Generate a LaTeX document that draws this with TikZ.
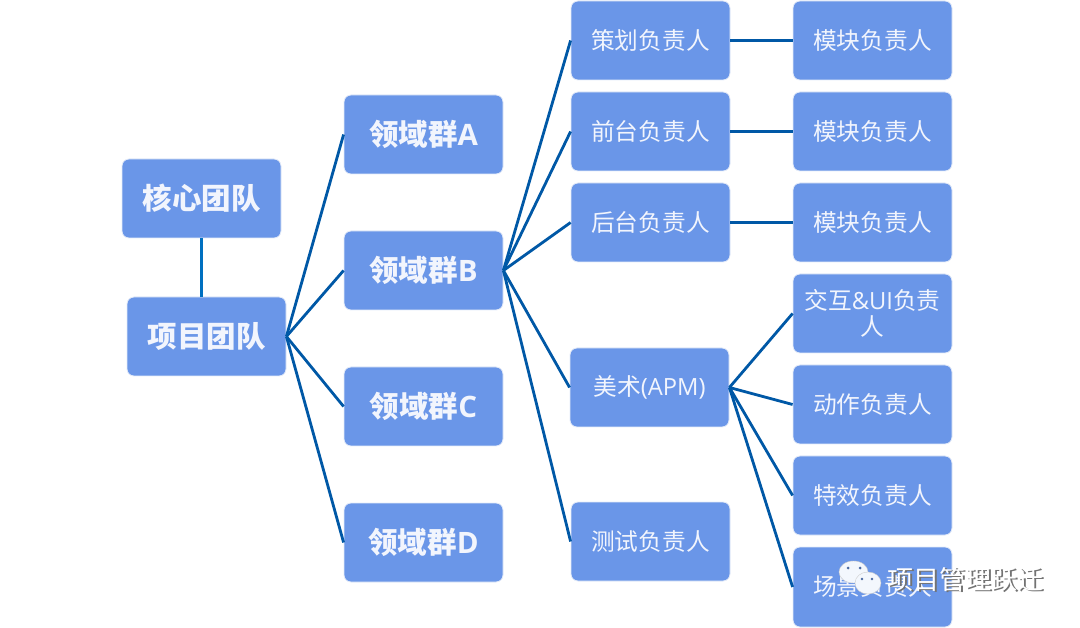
\documentclass[tikz,border=0pt]{standalone}
\usepackage{fontspec}
\setmainfont{Noto Sans CJK SC}
\newfontfamily\latn{Open Sans}
\definecolor{boxfill}{HTML}{6A96E8}
\definecolor{boxedge}{HTML}{E4EBF8}
\definecolor{linkblue}{HTML}{0058A6}
\definecolor{corelink}{HTML}{0070C0}
\definecolor{textwhite}{HTML}{F2F5FD}
\newcommand{\lift}[1]{\raisebox{1pt}{#1}}
\newcommand{\liftmore}[1]{\raisebox{2pt}{#1}}
\tikzset{
  x=1pt,y=-1pt,
  teambox/.style={draw=boxedge,line width=0.8pt,fill=boxfill,rounded corners=7pt,
    minimum width=159pt,minimum height=79pt,inner sep=0pt,align=center,text=textwhite},
  headbox/.style={teambox,font=\bfseries\fontsize{29.5}{33}\selectfont},
  rolebox/.style={teambox,font=\fontsize{23.7}{26}\selectfont},
  link/.style={draw=linkblue,line width=2.8pt},
  markshadow/.style={text=black!55,font=\fontsize{26}{30}\selectfont,inner sep=0pt},
  marktext/.style={text=white,font=\fontsize{26}{30}\selectfont,inner sep=0pt},
  bubble/.style={fill=white!92!boxfill,draw=black!20,line width=0.4pt},
}
\begin{document}
\begin{tikzpicture}
\useasboundingbox (0,0) rectangle (1080,628);
\coordinate (corec) at (201.5,198.5);
\coordinate (projc) at (206.5,336.5);
\node[headbox] (core) at (corec) {核心团队};
\node[headbox] (proj) at (projc) {项目团队};
\node[headbox] (ga) at (423.5,134.5) {\liftmore{领域群{\latn A}}};
\node[headbox] (gb) at (423.5,270.5) {\liftmore{领域群{\latn B}}};
\node[headbox] (gc) at (423.5,406.5) {\liftmore{领域群{\latn C}}};
\node[headbox] (gd) at (423.5,542.5) {\liftmore{领域群{\latn D}}};
\node[rolebox] (plan) at (650.5,40.5) {\lift{策划负责人}};
\node[rolebox] (front) at (650.5,131.5) {\lift{前台负责人}};
\node[rolebox] (back) at (650.5,222.5) {\lift{后台负责人}};
\node[rolebox] (art) at (649.5,387.5) {美术{\latn (APM)}};
\node[rolebox] (test) at (650.5,541.5) {\lift{测试负责人}};
\node[rolebox] (m1) at (872.5,40.5) {\lift{模块负责人}};
\node[rolebox] (m2) at (872.5,131.5) {\lift{模块负责人}};
\node[rolebox] (m3) at (872.5,222.5) {\lift{模块负责人}};
\node[rolebox] (ui) at (872.5,313.5) {交互{\latn \&UI}负责\\人};
\node[rolebox] (act) at (872.5,404.5) {动作负责人};
\node[rolebox] (fx) at (872.5,495.5) {特效负责人};
\node[rolebox,minimum height=80pt] (scene) at (872.5,587) {场景负责人};
\draw[draw=corelink,line width=2.8pt] (core.south) -- (core.south |- proj.north);
\foreach \t in {ga,gb,gc,gd} \draw[link] (proj.east) -- (\t.west);
\foreach \t in {plan,front,back,art,test} \draw[link] (gb.east) -- (\t.west);
\draw[link] (plan.east) -- (m1.west);
\draw[link] (front.east) -- (m2.west);
\draw[link] (back.east) -- (m3.west);
\foreach \t in {ui,act,fx,scene} \draw[link] (art.east) -- (\t.west);
% watermark
\path[bubble] (853.5,572) ellipse (14.5pt and 11pt);
\path[bubble] (868,583) ellipse (13pt and 11pt);
\fill[boxfill!70!black] (848,568) circle (1.5pt) (860,568) circle (1.5pt) (862,579) circle (1.3pt) (872,579) circle (1.3pt);
\node[markshadow,anchor=west] (markb) at (888.8,581) {项目管理跃迁};
\node[marktext,anchor=west] (mark) at (887.5,580) {项目管理跃迁};
\end{tikzpicture}
\end{document}
